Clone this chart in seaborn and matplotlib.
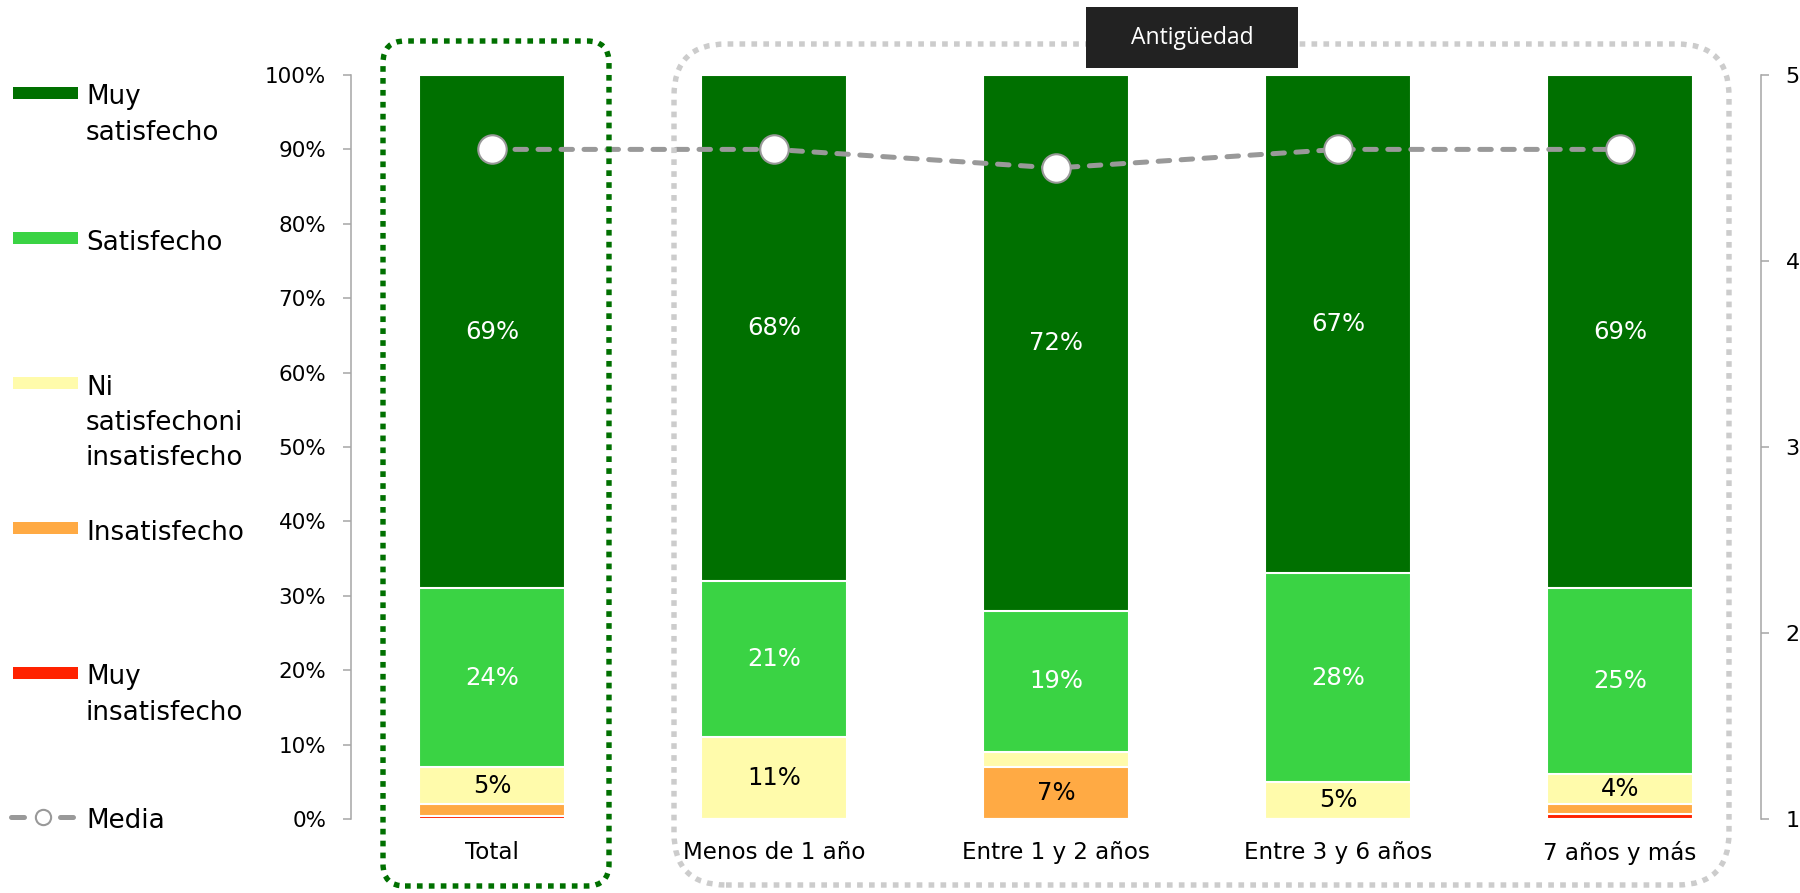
import numpy as np
import pandas as pd
import matplotlib
matplotlib.use("Agg")
import matplotlib.pyplot as plt
from matplotlib.patches import FancyBboxPatch, Rectangle
from matplotlib.lines import Line2D
from matplotlib.transforms import IdentityTransform
import seaborn as sns

# ---------------- data ----------------
grupos = ["Total", "Menos de 1 año", "Entre 1 y 2 años", "Entre 3 y 6 años", "7 años y más"]
niveles = ["Muy insatisfecho", "Insatisfecho", "Ni satisfechoni insatisfecho", "Satisfecho", "Muy satisfecho"]
muy_insatisfecho = [0.4, 0.0, 0.0, 0.0, 0.7]
insatisfecho = [1.6, 0.0, 7.0, 0.0, 1.3]
ni_ni = [5.0, 11.0, 2.0, 5.0, 4.0]
satisfecho = [24.0, 21.0, 19.0, 28.0, 25.0]
muy_satisfecho = [69.0, 68.0, 72.0, 67.0, 69.0]
media = [4.6, 4.6, 4.5, 4.6, 4.6]

leyenda = ["Muy\nsatisfecho", "Satisfecho", "Ni\nsatisfechoni\ninsatisfecho",
           "Insatisfecho", "Muy\ninsatisfecho", "Media"]
y_ticks_pct = list(range(0, 101, 10))
y_ticks_media = [1, 2, 3, 4, 5]

# ---------------- style ----------------
colores = {
    "Muy insatisfecho": "#ff2200",
    "Insatisfecho": "#ffaa44",
    "Ni satisfechoni insatisfecho": "#fffbab",
    "Satisfecho": "#3ad344",
    "Muy satisfecho": "#007000",
}
color_texto = {
    "Muy insatisfecho": "black",
    "Insatisfecho": "black",
    "Ni satisfechoni insatisfecho": "black",
    "Satisfecho": "white",
    "Muy satisfecho": "white",
}
gris_eje = "#a6a6a6"
gris_media = "#999999"

sns.set_style("white")
plt.rcParams["font.family"] = ["DejaVu Sans"]
plt.rcParams["text.color"] = "black"

W, H = 1800, 893
fig = plt.figure(figsize=(W / 100, H / 100), dpi=100)
fig.subplots_adjust(left=351 / W, right=1761 / W, bottom=1 - 819 / H, top=1 - 75 / H)
ax = fig.add_subplot(111)

# long table with cumulative heights (stack drawn as overlapping bars)
valores = {
    "Muy insatisfecho": muy_insatisfecho,
    "Insatisfecho": insatisfecho,
    "Ni satisfechoni insatisfecho": ni_ni,
    "Satisfecho": satisfecho,
    "Muy satisfecho": muy_satisfecho,
}
filas = []
acum = np.zeros(len(grupos))
for n in niveles:
    v = np.array(valores[n])
    base = acum.copy()
    acum = acum + v
    for g, b, val, c in zip(grupos, base, v, acum):
        filas.append({"grupo": g, "nivel": n, "valor": val, "base": b, "acum": c})
df = pd.DataFrame(filas)

for n in reversed(niveles):
    sub = df[df["nivel"] == n]
    sns.barplot(data=sub, x="grupo", y="acum", order=grupos, color=colores[n],
                saturation=1, width=0.52, edgecolor="white", linewidth=1.5, ax=ax)

# segment labels
for _, r in df.iterrows():
    if r["valor"] >= 3.5:
        ax.text(grupos.index(r["grupo"]), r["base"] + r["valor"] / 2, f"{r['valor']:.0f}%",
                ha="center", va="center", fontsize=17.5, color=color_texto[r["nivel"]])

ax.set_xlim(-0.5, len(grupos) - 0.5)
ax.set_ylim(0, 100)
ax.set_yticks(y_ticks_pct)
ax.set_yticklabels([f"{t}%" for t in y_ticks_pct])
ax.set_xlabel("")
ax.set_ylabel("")
for s in ["top", "right", "bottom"]:
    ax.spines[s].set_visible(False)
ax.spines["left"].set_color(gris_eje)
ax.spines["left"].set_linewidth(1.1)
ax.tick_params(axis="y", direction="out", length=5.8, width=1.1, color=gris_eje,
               labelcolor="black", labelsize=15.5, pad=12, left=True)
ax.tick_params(axis="x", length=0, labelsize=16.6, labelcolor="black", pad=16)

# mean score on secondary axis
ax2 = ax.twinx()
sns.lineplot(x=np.arange(len(grupos)), y=media, ax=ax2, color=gris_media, lw=3.6,
             linestyle=(0, (2.3, 2.3)), dash_capstyle="round",
             marker="o", markersize=20.5, markerfacecolor="white",
             markeredgecolor=gris_media, markeredgewidth=1.5)
ax2.set_ylim(1, 5)
ax2.set_yticks(y_ticks_media)
ax2.set_xlim(-0.5, len(grupos) - 0.5)
for s in ["top", "left", "bottom"]:
    ax2.spines[s].set_visible(False)
ax2.spines["right"].set_color(gris_eje)
ax2.spines["right"].set_linewidth(1.1)
ax2.tick_params(axis="y", direction="out", length=5.8, width=1.1, color=gris_eje,
                labelcolor="black", labelsize=16, pad=12, right=True)

# frames around the total column and the seniority groups (pixel coordinates)
px = IdentityTransform()
def caja(x0, y0_img, x1, y1_img, color, radio, z=5):
    p = FancyBboxPatch((x0, H - y1_img), x1 - x0, y1_img - y0_img,
                       boxstyle=f"round,pad=0,rounding_size={radio}",
                       fill=False, edgecolor=color, linewidth=3.9,
                       linestyle=(0, (1.05, 1.15)), transform=px, zorder=z)
    p.set_capstyle("butt")
    fig.add_artist(p)

caja(383, 41, 609, 886, "#007000", 22)
caja(674, 44, 1729, 885, "#cccccc", 52)

fig.add_artist(Rectangle((1086, H - 68), 212, 61, facecolor="#222222", edgecolor="none",
                         transform=px, zorder=6))
fig.text(1192 / W, 1 - 38 / H, "Antigüedad", ha="center", va="center", color="white",
         fontsize=16.5, family=["Open Sans", "DejaVu Sans"], zorder=7)

# legend on the left
centros = [93, 238, 383, 528, 673, 817]
colores_leyenda = [colores["Muy satisfecho"], colores["Satisfecho"],
                   colores["Ni satisfechoni insatisfecho"], colores["Insatisfecho"],
                   colores["Muy insatisfecho"]]
for yc, c in zip(centros[:5], colores_leyenda):
    fig.add_artist(Rectangle((13, H - yc - 6.3), 65, 12.6, facecolor=c, edgecolor="none",
                             transform=px, zorder=5))
ym = H - centros[5]
for xs in ([11, 24], [60, 73]):
    fig.add_artist(Line2D(xs, [ym, ym], color=gris_media, lw=3.6, solid_capstyle="round",
                          transform=px, zorder=5))
fig.add_artist(Line2D([43], [ym], marker="o", markersize=11, markerfacecolor="white",
                      markeredgecolor=gris_media, markeredgewidth=1.5, linestyle="none",
                      transform=px, zorder=6))
for yc, t in zip(centros, leyenda):
    fig.text(86 / W, 1 - (yc - 8.5) / H, t, ha="left", va="top", fontsize=18.8,
             linespacing=1.45, color="black")

fig.savefig("out.png", dpi=100)
